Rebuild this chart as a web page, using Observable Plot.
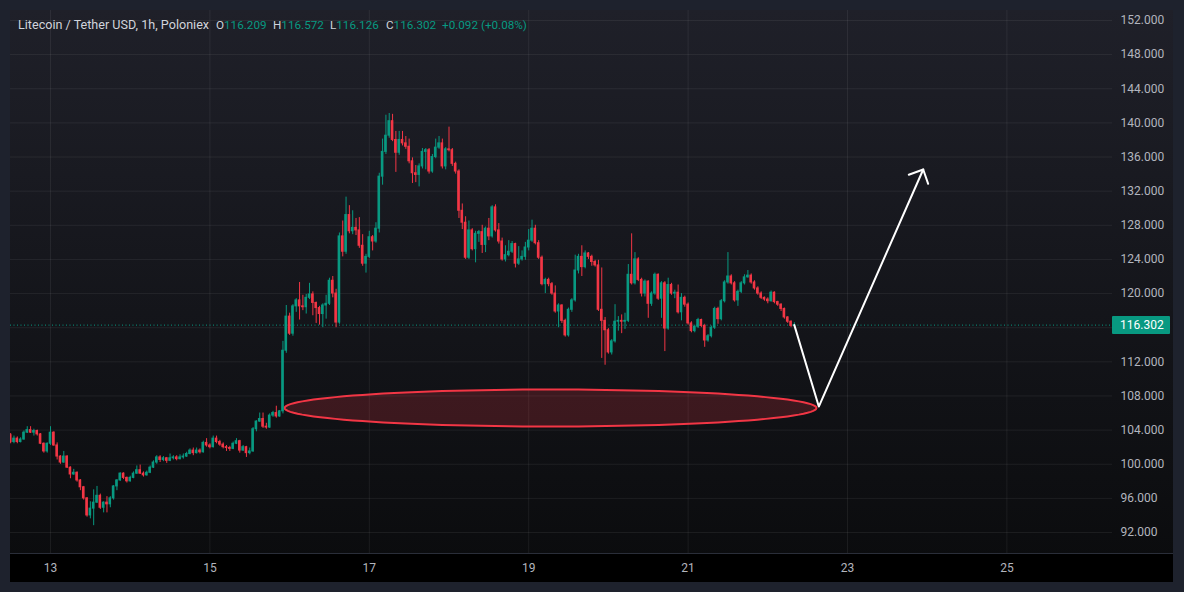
<!DOCTYPE html>
<html><head><meta charset="utf-8">
<script src="https://cdn.jsdelivr.net/npm/d3@7"></script>
<script src="https://cdn.jsdelivr.net/npm/@observablehq/plot@0.6"></script>
<style>
html,body{margin:0;padding:0;background:#1e222d;width:1184px;height:592px;overflow:hidden;font-family:Roboto,"DejaVu Sans",sans-serif}
#panel{position:absolute;left:10px;top:10px;width:1163px;height:572px;background:linear-gradient(#1f2029,#0b0c0e 96%);overflow:hidden}
#timeaxis{position:absolute;left:0;top:543px;width:1163px;height:29px;background:#000;border-top:1px solid #2a2e39;box-sizing:border-box}
#chart{position:absolute;left:0;top:0}
.hd{position:absolute;top:7px;line-height:16px;color:#d1d4dc;white-space:pre;font-size:11.7px}
.hd .v{color:#089981}
#plabel{position:absolute;left:1102px;width:58px;height:18px;background:#089981;color:#fff;font-size:12px;line-height:18px;box-sizing:border-box;padding-left:8px;border-radius:1px}
</style></head>
<body>
<div id="panel">
  <div id="timeaxis"></div>
  <div id="chart"></div>
  <div class="hd" style="left:8px;font-size:12.6px">Litecoin / Tether USD, 1h, Poloniex</div>
  <div class="hd" style="left:206px">O<span class="v">116.209</span></div>
  <div class="hd" style="left:263px">H<span class="v">116.572</span></div>
  <div class="hd" style="left:320px">L<span class="v">116.126</span></div>
  <div class="hd" style="left:376px">C<span class="v">116.302</span></div>
  <div class="hd" style="left:432px"><span class="v">+0.092 (+0.08%)</span></div>
  <div id="plabel">116.302</div>
</div>
<script>
// Hourly candles from Dec 12 12:00 (day 12.5)
const startDay = 12.5;
const firstOpen = 103.4;
const closes = [
102.6,103.0,102.6,102.9,103.7,104.0,103.7,103.9,103.5,102.4,101.5,102.4,103.7,102.2,100.9,100.2,100.9,99.6,98.8,99.0,
98.1,97.3,96.0,94.0,94.8,95.5,96.3,94.9,95.5,95.3,96.0,97.4,98.1,98.9,98.4,98.0,98.4,98.9,99.3,98.9,
98.7,99.0,99.6,100.2,100.8,100.5,100.7,100.4,100.7,100.8,100.6,100.8,100.9,101.2,101.6,101.3,101.6,101.4,102.5,102.2,
102.0,103.0,102.6,102.3,102.0,101.9,101.8,102.4,102.7,101.6,102.0,101.3,101.5,104.1,105.0,105.3,104.4,104.3,105.7,106.0,
105.6,106.2,113.3,117.3,115.3,118.5,119.2,118.5,118.4,119.5,119.9,118.9,118.3,117.6,118.6,118.8,121.5,120.0,116.6,126.7,
124.9,129.2,127.3,127.7,127.4,125.6,123.5,124.3,126.6,126.1,127.6,133.7,136.6,138.5,140.2,138.0,136.5,138.0,137.6,137.2,
135.5,134.1,133.9,134.9,136.6,136.8,134.3,136.0,137.1,137.6,134.9,136.9,136.8,135.2,134.3,129.7,128.3,124.2,127.4,125.2,
127.0,127.2,125.7,127.6,126.7,130.1,127.4,126.1,124.0,124.5,124.9,125.8,123.5,124.0,124.3,125.4,126.2,127.6,125.9,124.2,
121.1,121.6,121.1,120.0,117.9,118.6,116.8,115.1,118.1,119.2,122.7,124.3,123.1,124.7,124.3,123.7,123.3,118.1,116.8,115.7,
113.1,114.4,116.7,116.8,116.7,116.8,122.2,121.2,124.0,121.6,120.0,121.4,118.8,120.0,122.2,119.4,121.2,115.9,121.0,120.0,
120.1,117.8,119.5,118.7,116.5,115.6,116.1,116.9,116.2,114.5,115.0,116.0,118.2,117.0,119.1,121.3,122.0,121.2,119.2,120.2,
121.2,121.9,122.1,121.3,120.6,120.0,119.5,119.3,119.1,120.1,119.0,118.7,118.2,117.2,116.7,116.209,116.302];
const highs = [
103.6,103.3,103.2,103.1,103.9,104.4,104.4,104.1,104.0,103.6,102.5,102.5,104.4,103.8,102.5,101.0,101.5,101.0,99.7,99.4,
99.1,98.2,97.4,96.1,95.6,97.0,97.4,96.5,95.6,96.2,96.2,97.5,98.2,99.0,99.0,98.5,98.6,99.1,99.8,99.9,
99.1,99.2,99.8,100.4,101.0,101.0,100.9,100.8,101.2,101.0,101.0,101.1,101.2,101.4,101.8,101.9,101.9,101.8,102.7,103.0,
102.4,103.3,103.3,102.8,102.5,102.2,102.1,102.6,103.0,102.8,102.2,102.1,101.9,104.3,105.1,106.0,106.0,104.8,105.9,106.2,
106.8,106.3,114.4,118.6,117.7,118.7,119.4,121.3,119.8,119.9,121.2,120.2,119.0,118.5,118.8,119.8,121.8,122.0,120.5,127.1,
128.5,131.3,130.3,129.7,128.8,128.9,126.9,124.6,127.3,126.8,128.3,134.1,138.1,140.9,141.1,141.0,139.0,139.0,139.0,138.4,
138.1,135.9,135.0,135.2,137.0,137.0,137.0,136.3,138.1,138.4,138.1,137.1,139.5,137.0,135.4,134.5,130.5,129.0,128.5,127.6,
127.3,127.4,128.0,127.8,128.8,130.3,130.4,128.2,126.5,125.6,126.2,126.1,125.9,125.5,125.0,126.0,127.5,128.6,128.0,126.2,
124.4,121.8,121.8,121.3,120.9,118.8,118.7,117.0,118.3,119.4,124.5,124.6,125.6,125.0,124.8,124.5,123.9,123.9,123.0,117.2,
115.9,114.6,118.7,117.3,117.5,117.7,123.4,127.0,124.8,124.2,121.8,121.6,121.5,120.2,122.4,122.3,121.4,121.4,121.8,121.2,
120.4,121.0,120.0,119.7,118.9,116.7,116.3,117.1,117.0,116.4,115.2,116.2,118.4,118.4,119.3,121.5,124.8,122.2,121.4,120.4,
121.4,122.2,122.7,122.3,121.5,120.8,120.2,119.6,119.5,120.3,120.2,119.1,118.8,118.3,117.3,116.8,116.572];
const lows = [
102.4,102.4,102.4,102.5,102.8,103.6,103.6,103.3,103.3,102.3,101.3,101.3,102.2,102.1,100.5,100.0,100.1,99.5,98.3,98.7,
97.9,96.9,95.8,93.8,93.6,92.8,95.4,94.7,94.3,94.3,94.9,95.8,96.9,98.0,98.2,97.8,97.9,98.3,98.8,98.8,
98.5,98.6,98.9,99.5,100.0,100.2,100.3,100.1,100.3,100.5,100.4,100.5,100.6,100.8,101.1,101.0,101.2,101.2,101.3,102.0,
101.8,101.9,102.4,102.1,101.8,101.5,101.5,101.7,102.3,101.3,101.5,100.8,101.1,101.4,103.8,104.9,104.2,104.1,104.2,105.5,
105.4,105.5,105.9,113.0,115.1,115.0,117.8,116.9,118.0,117.6,119.3,117.4,116.5,116.3,116.0,117.0,118.6,119.5,116.0,116.4,
124.3,124.6,127.0,126.9,126.8,125.3,123.2,122.4,124.1,125.0,125.9,127.1,132.7,136.3,138.2,137.8,134.2,136.2,137.3,136.9,
135.2,132.9,133.0,132.5,134.6,134.5,134.0,134.1,135.8,136.9,134.6,134.5,136.6,134.9,134.0,128.8,127.5,124.0,124.0,125.0,
123.6,126.0,124.7,124.8,126.2,126.5,127.2,125.8,123.8,123.7,124.3,124.7,123.0,123.3,123.8,123.9,125.0,126.0,125.7,124.0,
120.9,120.0,120.8,119.8,117.7,116.0,116.5,114.9,114.9,117.8,119.0,122.3,122.0,122.9,124.0,123.2,123.1,117.9,112.4,111.6,
112.9,112.8,114.2,115.6,115.3,115.8,116.6,121.0,121.0,121.4,119.6,119.6,117.1,118.5,119.8,119.2,117.1,113.2,115.7,119.8,
119.4,117.6,116.8,118.4,116.3,115.4,115.4,115.9,116.0,113.7,114.3,114.8,115.8,116.4,116.8,118.9,121.1,121.0,119.0,118.5,
120.0,121.0,121.8,121.1,120.4,119.8,119.3,119.1,118.8,119.0,118.8,118.5,117.9,117.0,116.5,116.0,116.126];

// axis ticks (116 label is hidden behind the last-price label, as in the original)
const gridTicks = [92,96,100,104,108,112,116,120,124,128,132,136,140,144,148,152];
const priceLabels = [92,96,100,104,108,112,120,124,128,132,136,140,144,148,152];
const dayTicks = [13,15,17,19,21,23,25];
const lastPrice = 116.302;

// hand-drawn annotations (in chart coordinates: day, price)
const arrowPath = [{t:22.333,p:116.302},{t:22.640,p:106.76},{t:23.950,p:134.54}];
const arrowHead = [{t:23.769,p:133.92},{t:23.950,p:134.54},{t:24.012,p:132.86}];
const ellipseCenter = {t:19.274, p:106.59};
const ellipseRadius = {t:3.337, p:2.168};

const GREEN = "#089981", RED = "#f23645";
const candles = closes.map((c,i)=>({t:startDay + i/24, o: i ? closes[i-1] : firstOpen, h: highs[i], l: lows[i], c}));
const color = d => d.c >= d.o ? GREEN : RED;

const ellipsePts = d3.range(0, 121).map(k => {
  const a = k/120*2*Math.PI;
  return {t: ellipseCenter.t + ellipseRadius.t*Math.cos(a), p: ellipseCenter.p + ellipseRadius.p*Math.sin(a)};
});

const plot = Plot.plot({
  width: 1163, height: 572,
  marginLeft: 0, marginRight: 61, marginTop: 0, marginBottom: 29,
  style: {background: "transparent", fontFamily: "Roboto, sans-serif", fontSize: "12px", color: "#b2b5be"},
  x: {type: "linear", domain: [12.498, 26.325], label: null},
  y: {type: "linear", domain: [89.54, 153.17], label: null},
  marks: [
    Plot.gridY(gridTicks, {stroke: "#ffffff", strokeOpacity: 0.065}),
    Plot.gridX(dayTicks, {stroke: "#ffffff", strokeOpacity: 0.065}),
    Plot.axisY(priceLabels, {anchor: "right", label: null, tickSize: 0, tickPadding: 8, tickFormat: d => d.toFixed(3), fill: "#b2b5be", fontSize: 12}),
    Plot.axisX(dayTicks, {anchor: "bottom", label: null, tickSize: 0, tickPadding: 10, tickFormat: d => String(d), fill: "#b2b5be", fontSize: 12}),
    Plot.line(ellipsePts, {x: "t", y: "p", curve: "linear-closed", stroke: RED, strokeWidth: 2, fill: RED, fillOpacity: 0.2}),
    Plot.ruleY([lastPrice], {stroke: GREEN, strokeDasharray: "1,2.5", strokeWidth: 1}),
    Plot.ruleX(candles, {x: "t", y1: "l", y2: "h", stroke: color, strokeWidth: 1}),
    Plot.rect(candles, {x1: "t", x2: "t", y1: "o", y2: "c", fill: color, insetLeft: -1.3, insetRight: -1.3, insetTop: -0.5, insetBottom: -0.5}),
    Plot.line(arrowPath, {x: "t", y: "p", stroke: "#ffffff", strokeWidth: 2}),
    Plot.line(arrowHead, {x: "t", y: "p", stroke: "#ffffff", strokeWidth: 2})
  ]
});
document.getElementById("chart").appendChild(plot);
const yPx = plot.scale("y").apply(lastPrice);
document.getElementById("plabel").style.top = (yPx - 9) + "px";
</script>
</body></html>
